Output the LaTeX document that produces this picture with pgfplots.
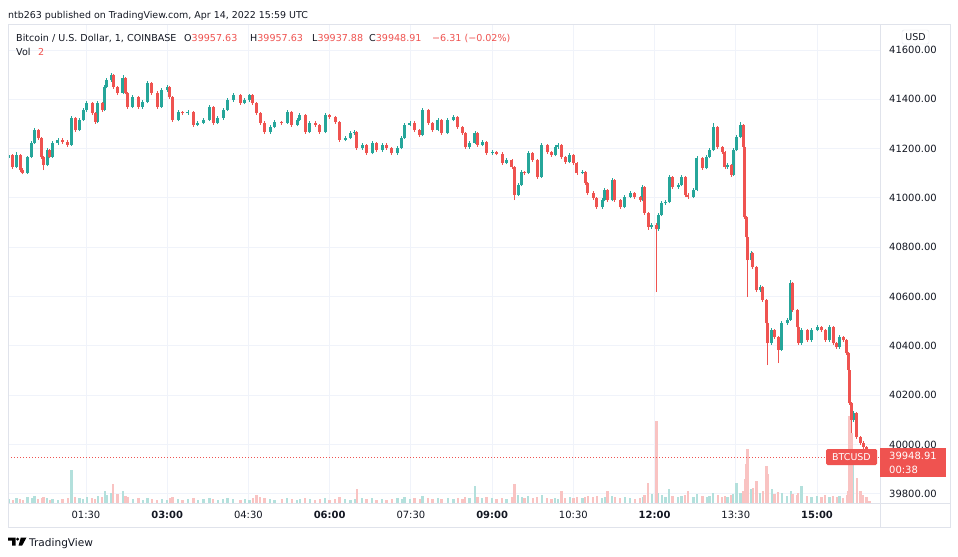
\documentclass[border=0pt]{standalone}
\usepackage{fontspec}
\setmainfont{DejaVu Sans}
\usepackage{pgfplots}
\usepackage{pgfplotstable}
\pgfplotsset{compat=1.18}
\definecolor{tvup}{HTML}{26A69A}
\definecolor{tvdn}{HTML}{EF5350}
\definecolor{tvgrid}{HTML}{F0F3FA}
\definecolor{tvframe}{HTML}{E0E3EB}
\definecolor{tvtext}{HTML}{131722}

\pgfplotstableread{
t o h l c v
4 41160 41182 41152 41174 4
9 41174 41180 41117 41125 3
13 41125 41185 41120 41174 5
17 41174 41178 41105 41113 4
20 41113 41120 41095 41101 3
25 41101 41172 41096 41166 6
30 41166 41230 41160 41223 5
33 41223 41283 41218 41275 7
37 41275 41281 41236 41243 4
41 41243 41248 41158 41166 5
43 41166 41170 41113 41133 6
47 41133 41201 41128 41194 5
50 41194 41199 41160 41166 3
53 41166 41230 41161 41223 4
59 41223 41244 41216 41235 3
64 41235 41242 41220 41227 4
70 41227 41233 41208 41215 5
74 41215 41332 41210 41324 33
78 41324 41329 41268 41275 6
83 41275 41323 41270 41316 5
87 41316 41364 41311 41357 4
91 41357 41392 41350 41385 6
97 41385 41390 41336 41344 5
100 41344 41350 41300 41308 4
103 41308 41392 41302 41385 7
108 41385 41391 41350 41357 6
111 41357 41458 41352 41450 12
113 41450 41486 41444 41478 8
118 41478 41507 41472 41499 10
120 41499 41504 41443 41450 19
125 41450 41456 41418 41426 9
131 41426 41499 41420 41486 12
134 41486 41491 41420 41426 7
136 41426 41431 41362 41369 6
142 41369 41416 41363 41409 4
148 41409 41414 41361 41369 5
153 41369 41396 41362 41389 3
158 41389 41473 41384 41466 5
163 41466 41471 41419 41426 4
169 41426 41432 41362 41369 3
174 41369 41445 41364 41438 4
180 41438 41458 41431 41450 3
183 41450 41455 41402 41409 5
186 41409 41414 41309 41316 6
192 41316 41355 41310 41348 4
197 41348 41354 41338 41344 3
203 41344 41355 41337 41348 4
209 41348 41353 41289 41296 5
214 41296 41312 41290 41304 3
220 41304 41323 41298 41316 4
227 41316 41376 41311 41369 5
231 41369 41374 41297 41304 4
236 41304 41331 41298 41324 3
242 41324 41364 41318 41357 4
247 41357 41404 41352 41397 5
253 41397 41424 41391 41417 4
261 41417 41422 41378 41385 3
266 41385 41404 41379 41397 4
271 41397 41423 41391 41417 3
275 41417 41422 41378 41385 5
279 41385 41390 41337 41344 8
283 41344 41349 41297 41304 6
288 41304 41310 41259 41267 5
294 41267 41295 41261 41288 4
299 41288 41315 41282 41308 3
307 41308 41314 41297 41304 4
313 41304 41355 41299 41348 5
318 41348 41353 41289 41296 4
324 41296 41323 41290 41316 3
327 41316 41343 41310 41336 4
333 41336 41341 41260 41267 5
338 41267 41311 41262 41304 4
344 41304 41310 41289 41296 3
349 41296 41301 41260 41267 4
355 41267 41343 41262 41336 5
360 41336 41342 41321 41328 3
366 41328 41334 41301 41308 4
371 41308 41313 41228 41235 6
377 41235 41250 41229 41243 4
383 41243 41270 41237 41263 3
388 41263 41274 41257 41267 4
390 41267 41272 41195 41202 14
396 41202 41222 41196 41215 5
401 41215 41220 41175 41182 4
407 41182 41230 41177 41223 5
412 41223 41228 41187 41194 3
418 41194 41222 41188 41215 4
423 41215 41221 41195 41202 3
429 41202 41207 41175 41182 4
435 41182 41209 41176 41202 5
440 41202 41250 41197 41243 4
443 41243 41303 41238 41296 6
449 41296 41312 41290 41304 4
454 41304 41310 41268 41275 5
460 41275 41281 41248 41255 4
463 41255 41364 41250 41357 7
469 41357 41362 41297 41304 5
474 41304 41309 41268 41275 4
480 41275 41323 41270 41316 5
484 41316 41321 41256 41263 4
491 41263 41323 41258 41316 5
497 41316 41336 41310 41328 4
502 41328 41333 41281 41288 5
507 41288 41293 41256 41263 4
510 41263 41268 41199 41206 6
515 41206 41230 41200 41223 5
521 41223 41270 41218 41263 17
524 41263 41268 41208 41215 6
529 41215 41234 41209 41227 5
534 41227 41232 41175 41182 6
540 41182 41193 41176 41186 5
545 41186 41191 41173 41180 4
551 41180 41185 41135 41142 5
556 41142 41161 41136 41154 4
562 41154 41159 41118 41125 6
565 41125 41130 40991 41012 19
569 41012 41059 41006 41052 8
573 41052 41112 41047 41105 6
576 41105 41111 41094 41101 5
580 41101 41190 41096 41182 7
585 41182 41187 41147 41154 5
590 41154 41159 41078 41085 6
595 41085 41222 41080 41215 8
601 41215 41220 41179 41186 5
606 41186 41192 41167 41174 4
610 41174 41213 41168 41206 5
613 41206 41222 41200 41215 4
617 41215 41220 41159 41166 12
621 41166 41171 41139 41146 5
626 41146 41181 41140 41174 6
630 41174 41179 41135 41142 5
634 41142 41147 41094 41101 6
640 41101 41112 41095 41105 5
643 41105 41110 41053 41060 6
646 41060 41065 41013 41020 7
652 41020 41026 40993 41000 6
656 41000 41005 40956 40963 7
662 40963 40998 40957 40991 5
665 40991 41039 40986 41032 6
668 41032 41037 40984 40991 12
673 40991 41080 40986 41073 7
676 41073 41078 40984 40991 6
682 40991 40996 40956 40963 5
687 40963 41011 40958 41004 6
693 41004 41027 40998 41020 5
698 41020 41025 40997 41004 4
704 41004 41009 40984 40991 5
707 40991 41051 40986 41044 6
709 41044 41049 40932 40939 8
713 40939 40944 40870 40882 20
717 40882 40898 40875 40890 9
722 40890 40900 40618 40872 82
724 40872 40938 40866 40931 10
728 40931 40986 40925 40979 8
732 40979 40990 40972 40983 6
736 40983 41092 40978 41085 14
740 41085 41090 41037 41044 7
746 41044 41059 41038 41052 6
750 41052 41092 41047 41085 7
754 41085 41090 41005 41012 8
757 41012 41018 40997 41004 12
763 41004 41039 40998 41032 6
767 41032 41169 41027 41162 9
773 41162 41167 41114 41121 7
778 41121 41173 41116 41166 6
781 41166 41201 41160 41194 7
785 41194 41304 41189 41288 10
790 41288 41293 41199 41206 8
795 41206 41211 41179 41186 6
798 41186 41191 41118 41125 7
801 41125 41140 41118 41133 6
805 41133 41138 41086 41093 8
807 41093 41201 41088 41194 9
811 41194 41254 41189 41247 20
815 41247 41308 41242 41296 10
818 41296 41301 41199 41206 12
820 41206 41211 40915 40922 24
822 40922 40927 40834 40841 39
823 40841 40846 40598 40748 54
827 40748 40783 40740 40776 14
829 40776 40781 40712 40720 15
833 40720 40725 40618 40626 22
837 40626 40646 40619 40638 10
840 40638 40643 40579 40586 12
844 40586 40591 40485 40492 37
845 40492 40497 40322 40411 29
850 40411 40471 40405 40464 14
853 40464 40469 40429 40436 9
857 40436 40441 40330 40383 11
861 40383 40499 40378 40492 10
867 40492 40512 40486 40505 7
871 40505 40667 40500 40655 12
873 40655 40660 40538 40545 9
878 40545 40550 40469 40476 8
879 40476 40481 40404 40411 10
883 40411 40471 40405 40464 17
889 40464 40469 40416 40423 7
894 40423 40471 40417 40464 6
900 40464 40483 40458 40476 7
905 40476 40482 40457 40464 6
909 40464 40469 40416 40423 8
914 40423 40483 40417 40476 6
918 40476 40481 40404 40411 7
922 40411 40417 40388 40395 6
925 40395 40443 40389 40436 7
929 40436 40441 40416 40423 5
933 40423 40428 40364 40371 8
935 40371 40376 40295 40302 12
936 40302 40307 40160 40168 87
938 40168 40173 40046 40099 70
940 40099 40134 40092 40127 40
944 40127 40132 40022 40030 25
948 40030 40036 39999 40006 12
951 40006 40012 39982 39989 8
955 39989 39995 39952 39958 6
958 39957.63 39957.63 39937.88 39948.91 2
}\btc

\pgfplotsset{
  candle/.style n args={2}{draw=none, no markers, forget plot,
    error bars/.cd, y dir=plus, y explicit, error mark=none,
    error bar style={line width=#1, draw=#2, solid}, /pgfplots/.cd},
  upf/.style={restrict expr to domain={\thisrow{c}-\thisrow{o}}{0:1000000}},
  dnf/.style={restrict expr to domain={\thisrow{c}-\thisrow{o}}{-1000000:-0.001}},
}

\begin{document}
\begin{tikzpicture}
\path[use as bounding box] (0bp,0bp) rectangle (958bp,-557bp);
\fill[white] (0bp,0bp) rectangle (958bp,-557bp);
\begin{axis}[
  at={(8bp,-503bp)}, anchor=south west,
  scale only axis, width=872bp, height=479bp,
  xmin=3.6, xmax=969.8, ymin=39762.2, ymax=41705.5,
  scaled x ticks=false, scaled y ticks=false,
  axis line style={draw=tvframe, line width=0.8bp},
  major tick length=0pt,
  grid=major, major grid style={draw=tvgrid, line width=0.9bp},
  xtick={90,180,270,360,450,540,630,720,810,900},
  xticklabels={01:30,{\bfseries 03:00},04:30,{\bfseries 06:00},07:30,{\bfseries 09:00},10:30,{\bfseries 12:00},13:30,{\bfseries 15:00}},
  ytick={39800,40000,40200,40400,40600,40800,41000,41200,41400,41600},
  yticklabels={39800.00,40000.00,40200.00,40400.00,40600.00,40800.00,41000.00,41200.00,41400.00,41600.00},
  yticklabel pos=right,
  xticklabel style={font=\fontsize{10}{12}\selectfont, text=tvtext, anchor=north, inner sep=0pt, yshift=-8bp},
  yticklabel style={font=\fontsize{10}{12}\selectfont, text=tvtext, anchor=west, inner sep=0pt, xshift=9bp},
]
% volume
\addplot[upf, candle={2.4bp}{tvup!35}]
  table[x=t, y expr=39762.2, y error expr=\thisrow{v}*4.057] {\btc};
\addplot[dnf, candle={2.4bp}{tvdn!35}]
  table[x=t, y expr=39762.2, y error expr=\thisrow{v}*4.057] {\btc};
% last price line
\addplot[tvdn, line width=0.8bp, dash pattern=on 1bp off 2bp, no markers, forget plot] coordinates {(3.6,39948.91) (969.8,39948.91)};
% up candles
\addplot[upf, candle={0.9bp}{tvup}]
  table[x=t, y=l, y error expr=\thisrow{h}-\thisrow{l}] {\btc};
\addplot[upf, candle={3bp}{tvup}]
  table[x=t, y=o, y error expr=\thisrow{c}-\thisrow{o}] {\btc};
% down candles
\addplot[dnf, candle={0.9bp}{tvdn}]
  table[x=t, y=l, y error expr=\thisrow{h}-\thisrow{l}] {\btc};
\addplot[dnf, candle={3bp}{tvdn}]
  table[x=t, y=c, y error expr=\thisrow{o}-\thisrow{c}] {\btc};
\end{axis}
\begin{scope}[x=1bp,y=-1bp]
\draw[tvframe, line width=0.8bp] (8,24) rectangle (950,527);
\draw[tvframe, line width=0.8bp] (880,24) -- (880,527) (8,503) -- (950,503);
% header
\node[anchor=base west, inner sep=0pt, font=\fontsize{9.5}{11}\selectfont, text=tvtext] at (8,18) {ntb263 published on TradingView.com, Apr 14, 2022 15:59 UTC};
\begin{scope}[every node/.style={anchor=base west, inner sep=0pt, font=\fontsize{9.6}{11}\selectfont, text=tvtext}]
\node at (16,41) {Bitcoin / U.S. Dollar, 1, COINBASE};
\node at (184,41) {O\textcolor{tvdn}{39957.63}};
\node at (250,41) {H\textcolor{tvdn}{39957.63}};
\node at (312,41) {L\textcolor{tvdn}{39937.88}};
\node at (369,41) {C\textcolor{tvdn}{39948.91}};
\node at (432,41) {\textcolor{tvdn}{−6.31 (−0.02\%)}};
\node at (16,55) {Vol};
\node at (38,55) {\textcolor{tvdn}{2}};
\end{scope}
% USD box
\node[draw=tvframe, fill=white, rounded corners=2bp, minimum width=27bp, minimum height=14bp, inner sep=0pt, font=\fontsize{9.5}{11}\selectfont, text=tvtext] at (915.5,37) {USD};
% last price boxes
\fill[tvdn] (880,448) rectangle (946,477);
\node[anchor=west, inner sep=0pt, font=\fontsize{10}{12}\selectfont, text=white] at (889,456) {39948.91};
\node[anchor=west, inner sep=0pt, font=\fontsize{10}{12}\selectfont, text=white] at (889,470) {00:38};
\fill[tvdn, rounded corners=1.5bp] (826,449) rectangle (877,465);
\node[inner sep=0pt, font=\fontsize{9.5}{11}\selectfont, text=white] at (851.5,457) {BTCUSD};
% logo
\fill[black] (8,537.5) -- (15.5,537.5) -- (15.5,545.5) -- (12,545.5) -- (12,540.7) -- (8,540.7) -- cycle;
\fill[black] (17.6,539.1) circle (1.6);
\fill[black] (20.8,537.5) -- (26.5,537.5) -- (22.2,545.5) -- (18.6,545.5) -- cycle;
\node[anchor=base west, inner sep=0pt, font=\fontsize{10.6}{12}\selectfont, text=tvtext] at (29,546.5) {TradingView};
\end{scope}
\end{tikzpicture}
\end{document}
